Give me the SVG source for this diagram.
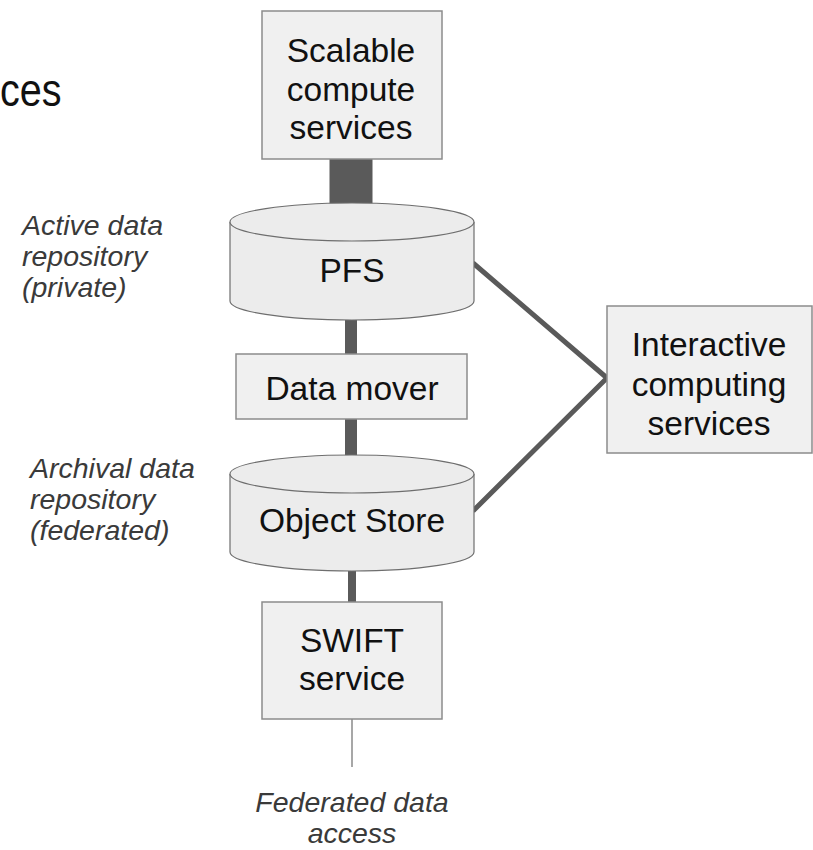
<svg xmlns="http://www.w3.org/2000/svg" width="813" height="850" viewBox="0 0 813 850">
<style>
.box{fill:#f0f0f0;stroke:#8c8c8c;stroke-width:1.5}
.cyl{fill:#ececec;stroke:#6e6e6e;stroke-width:1.2}
.lbl{font-family:"Liberation Sans",Arial,sans-serif;font-size:33.5px;fill:#111;text-anchor:middle}
.note{font-family:"Liberation Sans",Arial,sans-serif;font-size:28.5px;font-style:italic;fill:#3a3a3a}
.con{stroke:#5a5a5a;fill:none}
</style>
<rect width="813" height="850" fill="#fff"/>
<text transform="translate(0,106) scale(0.86,1)" x="0" y="0" font-family="Liberation Sans, Arial, sans-serif" font-size="46" fill="#111">ces</text>
<g id="connectors">
<line class="con" x1="351" y1="158" x2="351" y2="205" stroke-width="43"/>
<line class="con" x1="351" y1="318" x2="351" y2="356" stroke-width="12"/>
<line class="con" x1="351" y1="418" x2="351" y2="457" stroke-width="12"/>
<line class="con" x1="352" y1="569" x2="352" y2="603" stroke-width="8"/>
<line x1="352" y1="719" x2="352" y2="767" stroke="#8a8a8a" stroke-width="1.5"/>
<polyline class="con" points="473,263 607,378 473,511" stroke-width="5" stroke-linejoin="miter"/>
</g>
<g id="scalable">
<rect class="box" x="262" y="11" width="180" height="148"/>
<text class="lbl" x="351" y="62">Scalable</text>
<text class="lbl" x="351" y="101">compute</text>
<text class="lbl" x="351" y="139">services</text>
</g>
<g id="pfs">
<path class="cyl" d="M230,222 V301 A122,19 0 0 0 474,301 V222 A122,19 0 0 0 230,222 Z"/>
<path class="cyl" d="M230,222 A122,19 0 0 0 474,222"/>
<text class="lbl" x="352" y="282">PFS</text>
</g>
<g id="datamover">
<rect class="box" x="236" y="354" width="231" height="65"/>
<text class="lbl" x="352" y="400">Data mover</text>
</g>
<g id="objectstore">
<path class="cyl" d="M230,474 V552 A122,19 0 0 0 474,552 V474 A122,19 0 0 0 230,474 Z"/>
<path class="cyl" d="M230,474 A122,19 0 0 0 474,474"/>
<text class="lbl" x="352" y="532">Object Store</text>
</g>
<g id="swift">
<rect class="box" x="262" y="602" width="180" height="117"/>
<text class="lbl" x="352" y="652">SWIFT</text>
<text class="lbl" x="352" y="690">service</text>
</g>
<g id="interactive">
<rect class="box" x="607" y="306" width="205" height="147"/>
<text class="lbl" x="709" y="356">Interactive</text>
<text class="lbl" x="709" y="396">computing</text>
<text class="lbl" x="709" y="435">services</text>
</g>
<g id="notes">
<text class="note" x="22" y="235">Active data</text>
<text class="note" x="22" y="266">repository</text>
<text class="note" x="22" y="297">(private)</text>
<text class="note" x="30" y="478">Archival data</text>
<text class="note" x="30" y="509">repository</text>
<text class="note" x="30" y="540">(federated)</text>
<text class="note" x="352" y="812" text-anchor="middle">Federated data</text>
<text class="note" x="352" y="843" text-anchor="middle">access</text>
</g>
</svg>
